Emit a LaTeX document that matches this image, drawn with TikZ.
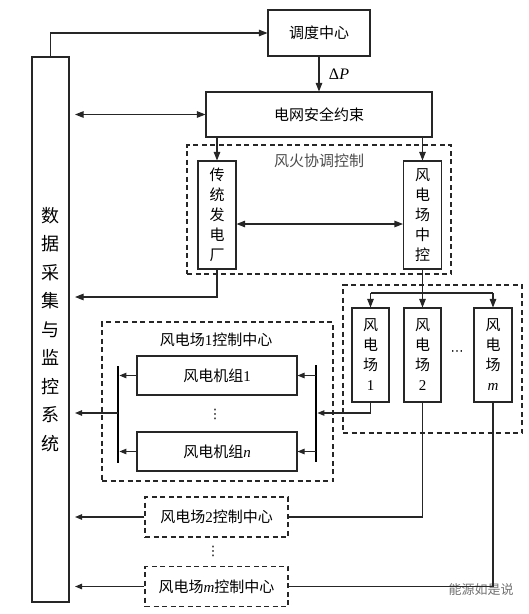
\documentclass[tikz,border=0pt]{standalone}
\usepackage{fontspec}
\setmainfont{Noto Sans CJK SC}
\newfontfamily\tnr{Liberation Serif}
\newfontfamily\djv{DejaVu Sans}
\usetikzlibrary{arrows.meta}
\begin{document}
\begin{tikzpicture}[x=1pt,y=-1pt,
  box/.style={draw=black!85, line width=1.1pt, inner sep=0pt, align=center,
    font=\fontsize{15}{20}\selectfont, text=black},
  dbox/.style={box, dash pattern=on 5pt off 3.5pt},
  grp/.style={draw=black!85, line width=1.1pt, dash pattern=on 5pt off 3.5pt, inner sep=0pt},
  ln/.style={draw=black!85, line width=1.1pt},
  arr/.style={ln, -{Triangle[length=8.5pt,width=6.5pt]}},
  darr/.style={ln, {Triangle[length=8.5pt,width=6.5pt]}-{Triangle[length=8.5pt,width=6.5pt]}},
  sarr/.style={ln, -{Triangle[length=7pt,width=5.5pt]}},
  bus/.style={draw=black, line width=2.8pt},
  lbl/.style={inner sep=0pt, font=\fontsize{15}{20}\selectfont},
]
\useasboundingbox (0,0) rectangle (529,614);

% dashed groups
\node[grp, minimum width=264pt, minimum height=129pt] (coordgrp) at (319,209.5) {};
\node[grp, minimum width=179pt, minimum height=148pt] (wfgrp) at (432.5,359) {};
\node[grp, minimum width=231pt, minimum height=159pt] (wf1grp) at (217.5,401.5) {};

% boxes
\node[box, minimum width=37pt, minimum height=545pt, font=\fontsize{18}{28.5}\selectfont] (sys) at (50.5,329.5)
  {数\\据\\采\\集\\与\\监\\控\\系\\统};
\node[box, minimum width=102pt, minimum height=46pt] (dispatch) at (319,33) {调度中心};
\node[box, minimum width=226pt, minimum height=45pt] (grid) at (319,114.5) {电网安全约束};
\node[box, minimum width=38pt, minimum height=108pt] (trad) at (217,215) {传\\统\\发\\电\\厂};
\node[box, minimum width=38pt, minimum height=108pt] (wcc) at (422.5,215) {风\\电\\场\\中\\控};
\node[box, minimum width=37pt, minimum height=94pt] (wf1) at (370.5,355) {风\\电\\场\\{\tnr 1}};
\node[box, minimum width=37pt, minimum height=94pt] (wf2) at (422.5,355) {风\\电\\场\\{\tnr 2}};
\node[box, minimum width=38pt, minimum height=94pt] (wfm) at (493,355) {风\\电\\场\\{\tnr\itshape m}};
\node[box, minimum width=160pt, minimum height=39pt] (wt1) at (217,375.5) {风电机组{\tnr 1}};
\node[box, minimum width=160pt, minimum height=39pt] (wtn) at (217,451.5) {风电机组{\tnr\itshape n}};
\node[dbox, minimum width=143pt, minimum height=40pt] (ctrl2) at (216.5,517) {风电场{\tnr 2}控制中心};
\node[dbox, minimum width=143pt, minimum height=40pt] (ctrlm) at (216.5,586.5) {风电场{\tnr\itshape m}控制中心};

% labels
\node[lbl, text=black!70] (coordlbl) at (319,161) {风火协调控制};
\node[lbl] (wf1lbl) at (216,340) {风电场{\tnr 1}控制中心};
\node[lbl, font=\fontsize{16}{18}\selectfont] (dp) at (339,74) {\tnr Δ\textit{P}};
\node[lbl, font=\djv\fontsize{13}{15}\selectfont] (hdots) at (457,353) {⋯};
\node[lbl, font=\djv\fontsize{13}{15}\selectfont] (vd1) at (215,414) {⋮};
\node[lbl, font=\djv\fontsize{13}{15}\selectfont] (vd2) at (213,551) {⋮};
\node[lbl, text=black!55, font=\fontsize{13}{15}\selectfont] (wm) at (481,590) {能源如是说};

% helper coordinates
\coordinate (sysR) at ([xshift=5.5pt]sys.east);
\coordinate (tb) at (0,293);
\coordinate (rbT) at (316,365);
\coordinate (rbB) at (316,462);
\coordinate (rbx) at (317.4,0);
\coordinate (lbT) at (118,366);
\coordinate (lbB) at (118,463);
\coordinate (lbx) at (119.4,0);

% bus bars
\draw[bus] (rbT) -- (rbB);
\draw[bus] (lbT) -- (lbB);

% connectors
\draw[arr] (sys.north) |- (dispatch.west);
\draw[arr] (dispatch.south) -- (grid.north);
\draw[darr] (sysR |- grid.west) -- (grid.west);
\draw[arr] (grid.south -| trad.north) -- (trad.north);
\draw[arr] (grid.south -| wcc.north) -- (wcc.north);
\draw[darr] ([yshift=-9pt]trad.east) -- ([yshift=-9pt]wcc.west);
\draw[arr] (trad.south) |- (sysR |- 0,297);
\draw[ln] (wcc.south) -- (wcc.south |- tb);
\draw[ln] (wf1.north |- tb) -- (wfm.north |- tb);
\draw[arr] (wf1.north |- tb) -- (wf1.north);
\draw[arr] (wf2.north |- tb) -- (wf2.north);
\draw[arr] (wfm.north |- tb) -- (wfm.north);
\draw[sarr] (wf1.south) |- (rbx |- 0,413);
\draw[sarr] (rbT |- wt1.east) -- (wt1.east);
\draw[sarr] (rbT |- wtn.east) -- (wtn.east);
\draw[sarr] (wt1.west) -- (lbx |- wt1.west);
\draw[sarr] (wtn.west) -- (lbx |- wtn.west);
\draw[sarr] (lbT |- 0,413) -- (sysR |- 0,413);
\draw[ln] (wf2.south) |- (ctrl2.east);
\draw[sarr] (ctrl2.west) -- (sysR |- ctrl2.west);
\draw[ln] (wfm.south) |- (ctrlm.east);
\draw[sarr] (ctrlm.west) -- (sysR |- ctrlm.west);
\end{tikzpicture}
\end{document}
